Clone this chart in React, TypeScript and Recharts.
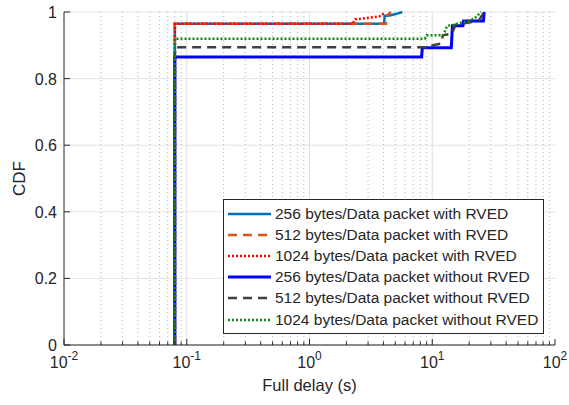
import React from 'react';
import { LineChart, Line, XAxis, YAxis, CartesianGrid, Legend, ReferenceLine } from 'recharts';

// tick values (log x axis, decades + minor ticks)
const xTicks = [
  0.01, 0.02, 0.03, 0.04, 0.05, 0.06, 0.07, 0.08, 0.09,
  0.1, 0.2, 0.3, 0.4, 0.5, 0.6, 0.7, 0.8, 0.9,
  1, 2, 3, 4, 5, 6, 7, 8, 9,
  10, 20, 30, 40, 50, 60, 70, 80, 90,
  100,
];
const xMajor = [0.1, 1, 10];
const yTicks = [0, 0.2, 0.4, 0.6, 0.8, 1];

// CDF curves: delay (s) / probability
const with256X = [0.08, 0.08, 4.05, 4.1, 4.6, 5.2, 5.7];
const with256Y = [0, 0.965, 0.965, 0.988, 0.99, 0.995, 1];
const with512X = [0.08, 0.08, 4.2, 4.3, 4.6];
const with512Y = [0, 0.965, 0.965, 0.99, 1];
const with1024X = [0.08, 0.08, 2.25, 2.35, 3.0, 3.7, 3.9, 4.1];
const with1024Y = [0, 0.965, 0.965, 0.978, 0.982, 0.987, 0.99, 1];
const without256X = [0.08, 0.08, 8.2, 8.3, 14.3, 14.6, 17.8, 18.0, 26.1, 26.5];
const without256Y = [0, 0.865, 0.865, 0.893, 0.893, 0.959, 0.959, 0.973, 0.973, 1];
const without512X = [0.08, 0.08, 9.6, 10, 11.8, 12.2, 14.5, 15.5, 21, 24, 26.5];
const without512Y = [0, 0.894, 0.894, 0.9, 0.905, 0.93, 0.935, 0.962, 0.97, 0.975, 1];
const without1024X = [0.08, 0.08, 8.7, 9, 12.3, 13.2, 15, 19, 22, 25];
const without1024Y = [0, 0.92, 0.92, 0.93, 0.93, 0.958, 0.962, 0.972, 0.98, 1];

const toPoints = (xs: number[], ys: number[]) => xs.map((x, i) => ({ x, y: ys[i] }));

const series = [
  { name: '256 bytes/Data packet with RVED', data: toPoints(with256X, with256Y), color: '#0072BD', width: 2.5, dash: undefined },
  { name: '512 bytes/Data packet with RVED', data: toPoints(with512X, with512Y), color: '#D95319', width: 2.5, dash: '9 6' },
  { name: '1024 bytes/Data packet with RVED', data: toPoints(with1024X, with1024Y), color: '#FF0000', width: 2.5, dash: '2 2' },
  { name: '256 bytes/Data packet without RVED', data: toPoints(without256X, without256Y), color: '#0000FF', width: 3, dash: undefined },
  { name: '512 bytes/Data packet without RVED', data: toPoints(without512X, without512Y), color: '#404040', width: 2.5, dash: '9 6' },
  { name: '1024 bytes/Data packet without RVED', data: toPoints(without1024X, without1024Y), color: '#0A8A0A', width: 2.5, dash: '2 2' },
];

const FONT = '"Liberation Sans", Arial, sans-serif';
const AXIS = '#262626';

const isMajor = (v: number) => Math.abs(Math.log10(v) - Math.round(Math.log10(v))) < 1e-6;

const BottomTick = ({ x, y, payload }: any) => {
  const v = payload.value;
  const major = isMajor(v);
  return (
    <g>
      <line x1={x} x2={x} y1={y} y2={y - (major ? 6 : 3.5)} stroke={AXIS} strokeWidth={1} />
      {major && (
        <text x={x} y={y + 23} textAnchor="middle" fontSize={16} fontFamily={FONT} fill={AXIS}>
          10<tspan dy={-8} fontSize={12}>{Math.round(Math.log10(v))}</tspan>
        </text>
      )}
    </g>
  );
};

const TopTick = ({ x, y, payload }: any) => {
  const major = isMajor(payload.value);
  return <line x1={x} x2={x} y1={y} y2={y + (major ? 6 : 3.5)} stroke={AXIS} strokeWidth={1} />;
};

const LeftTick = ({ x, y, payload }: any) => (
  <g>
    <line x1={x} x2={x + 6} y1={y} y2={y} stroke={AXIS} strokeWidth={1} />
    <text x={x - 7} y={y} dy={6} textAnchor="end" fontSize={16} fontFamily={FONT} fill={AXIS}>
      {payload.value}
    </text>
  </g>
);

const RightTick = ({ x, y }: any) => (
  <line x1={x} x2={x - 6} y1={y} y2={y} stroke={AXIS} strokeWidth={1} />
);

const renderLegend = () => (
  <div
    style={{
      border: `1px solid ${AXIS}`,
      background: '#fff',
      padding: '3px 0 3px 3px',
      fontFamily: FONT,
      fontSize: 15.5,
      color: AXIS,
      width: 316,
    }}
  >
    {series.map((s) => (
      <div key={s.name} style={{ display: 'flex', alignItems: 'center', height: 21.2 }}>
        <svg width={46} height={10} style={{ flex: 'none' }}>
          <line x1={1} x2={44} y1={5} y2={5} stroke={s.color} strokeWidth={s.width} strokeDasharray={s.dash} />
        </svg>
        <span style={{ whiteSpace: 'nowrap', marginLeft: 2 }}>{s.name}</span>
      </div>
    ))}
  </div>
);

const App: React.FC = () => {
  return (
    <div style={{ position: 'absolute', left: 0, top: 0, width: 569, height: 405, background: '#fff' }}>
      <LineChart width={569} height={405} margin={{ top: 12, right: 14, bottom: 0, left: 0 }}>
        <CartesianGrid vertical={false} stroke="#e3e3e3" />
        {xTicks
          .filter((v) => !isMajor(v))
          .map((v) => (
            <ReferenceLine key={`m${v}`} x={v} stroke="#b5b5b5" strokeDasharray="1 3" />
          ))}
        {xMajor.map((v) => (
          <ReferenceLine key={`M${v}`} x={v} stroke="#e0e0e0" />
        ))}
        <XAxis
          dataKey="x"
          type="number"
          scale="log"
          domain={[0.01, 100]}
          ticks={xTicks}
          interval={0}
          allowDataOverflow
          height={60}
          tickSize={0}
          tickMargin={0}
          tickLine={false}
          tick={<BottomTick />}
          axisLine={{ stroke: AXIS }}
          label={{ value: 'Full delay (s)', position: 'insideBottom', offset: 14, fontSize: 16.5, fontFamily: FONT, fill: AXIS }}
        />
        <XAxis
          xAxisId="top"
          orientation="top"
          dataKey="x"
          type="number"
          scale="log"
          domain={[0.01, 100]}
          ticks={xTicks}
          interval={0}
          allowDataOverflow
          height={0}
          tickSize={0}
          tickMargin={0}
          tickLine={false}
          tick={<TopTick />}
          axisLine={{ stroke: AXIS }}
        />
        <YAxis
          type="number"
          domain={[0, 1]}
          ticks={yTicks}
          interval={0}
          width={64}
          tickSize={0}
          tickMargin={0}
          tickLine={false}
          tick={<LeftTick />}
          axisLine={{ stroke: AXIS }}
          label={{ value: 'CDF', angle: -90, position: 'insideLeft', offset: 19, fontSize: 17, fontFamily: FONT, fill: AXIS, style: { textAnchor: 'middle' } }}
        />
        <YAxis
          yAxisId="right"
          orientation="right"
          type="number"
          domain={[0, 1]}
          ticks={yTicks}
          interval={0}
          width={0}
          tickSize={0}
          tickMargin={0}
          tickLine={false}
          tick={<RightTick />}
          axisLine={{ stroke: AXIS }}
        />
        <Legend
          layout="vertical"
          align="center"
          verticalAlign="middle"
          content={renderLegend}
          wrapperStyle={{ left: 223, top: 199, width: 318 }}
        />
        {series.map((s) => (
          <Line
            key={s.name}
            data={s.data}
            dataKey="y"
            name={s.name}
            type="linear"
            stroke={s.color}
            strokeWidth={s.width}
            strokeDasharray={s.dash}
            dot={false}
            activeDot={false}
            isAnimationActive={false}
          />
        ))}
      </LineChart>
    </div>
  );
};

export default App;
